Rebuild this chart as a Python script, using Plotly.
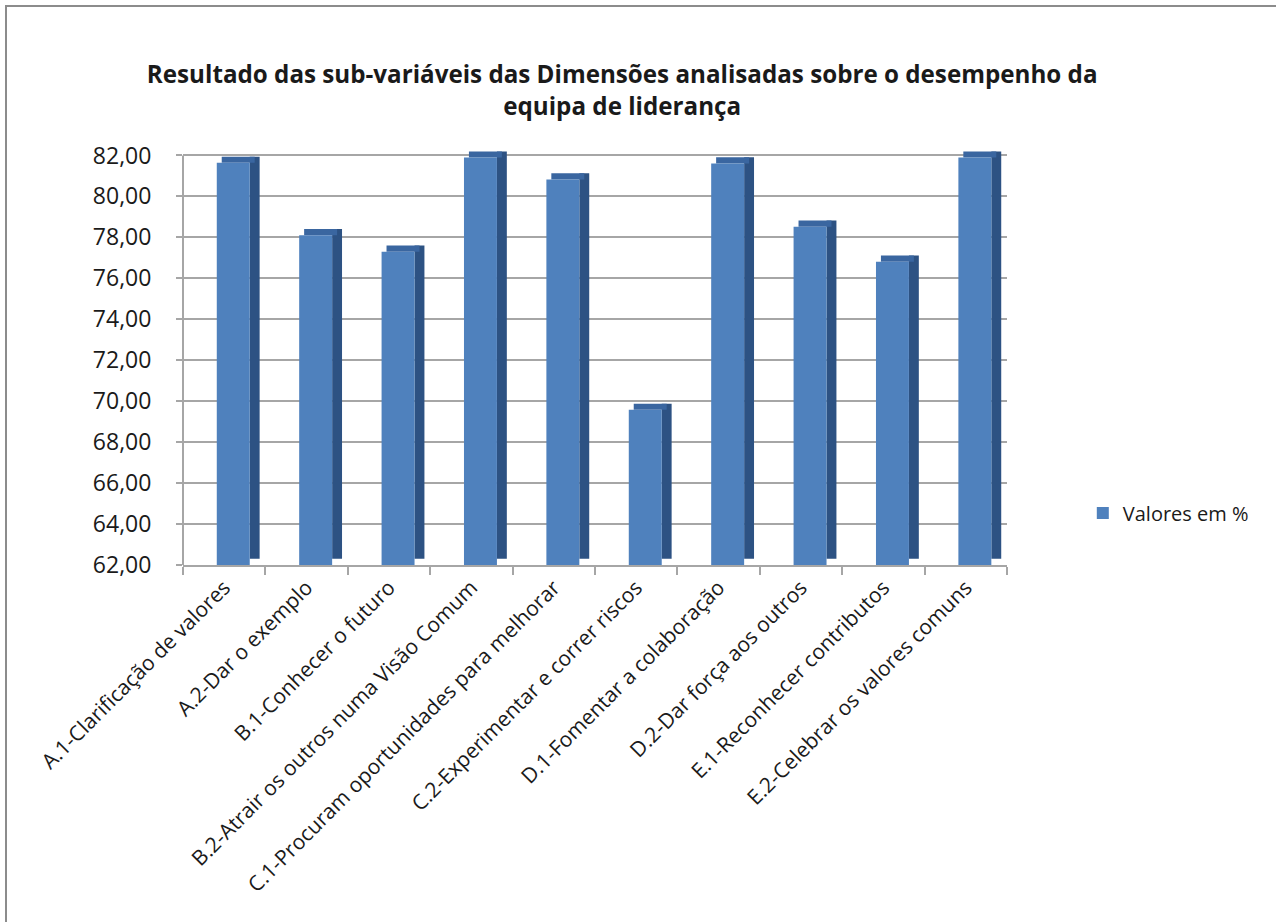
import plotly.graph_objects as go

categories = [
    "A.1-Clarificação de valores",
    "A.2-Dar o exemplo",
    "B.1-Conhecer o futuro",
    "B.2-Atrair os outros numa Visão Comum",
    "C.1-Procuram oportunidades para melhorar",
    "C.2-Experimentar e correr riscos",
    "D.1-Fomentar a colaboração",
    "D.2-Dar força aos outros",
    "E.1-Reconhecer contributos",
    "E.2-Celebrar os valores comuns",
]
valores = [81.64, 78.11, 77.30, 81.90, 80.83, 69.58, 81.61, 78.52, 76.81, 81.90]
series_name = "Valores em %"
title_lines = ["Resultado das sub-variáveis das Dimensões analisadas sobre o desempenho da",
               "equipa de liderança"]

Y_MIN, Y_MAX, Y_TOP = 62, 82, 83
DEPTH_Y = 0.3          # apparent depth of the 3D bars, in value units
FRONT_OFF, FRONT_W = -0.09, 0.40
SIDE_W = 0.12

FONT = "Open Sans"
front_col = "#4F81BD"
top_col = "#3A66A0"
side_col = "#2D5283"

fig = go.Figure()

# side face (extrusion)
fig.add_trace(go.Bar(
    x=categories, y=[v - Y_MIN for v in valores], base=Y_MIN + DEPTH_Y,
    width=SIDE_W, offset=FRONT_OFF + FRONT_W,
    marker=dict(color=side_col, line=dict(width=0)),
    showlegend=False, hoverinfo="skip"))
# top face
fig.add_trace(go.Bar(
    x=categories, y=[DEPTH_Y] * len(valores), base=valores,
    width=FRONT_W, offset=FRONT_OFF + SIDE_W / 2,
    marker=dict(color=top_col, line=dict(width=0)),
    showlegend=False, hoverinfo="skip"))
# front face
fig.add_trace(go.Bar(
    x=categories, y=[v - Y_MIN for v in valores], base=Y_MIN,
    width=FRONT_W, offset=FRONT_OFF,
    marker=dict(color=front_col, line=dict(width=0)),
    name=series_name, showlegend=True))

fig.update_layout(
    width=1276, height=922,
    margin=dict(l=183, r=269, t=134.5, b=357),
    paper_bgcolor="white", plot_bgcolor="white",
    separators=",.",
    barmode="overlay",
    font=dict(family=FONT, color="#1a1a1a"),
    title=dict(text="<b>" + "<br>".join(title_lines) + "</b>",
               x=0.533, xref="paper", xanchor="center",
               y=0.9095, yref="container", yanchor="middle",
               font=dict(family=FONT, size=24.2, color="#1a1a1a")),
    legend=dict(x=1.092, y=0.127 * 410 / 430.5, xref="paper", yref="paper",
                xanchor="left", yanchor="middle",
                font=dict(family=FONT, size=20, color="#1a1a1a"),
                itemsizing="constant", bgcolor="rgba(0,0,0,0)"),
    showlegend=True,
)

fig.update_yaxes(
    range=[Y_MIN, Y_TOP], tick0=Y_MIN, dtick=2, tickformat=".2f",
    showgrid=True, gridcolor="#A6A6A6", gridwidth=2,
    showline=False, zeroline=False,
    ticks="outside", ticklen=6, tickcolor="#A6A6A6", tickwidth=2,
    tickfont=dict(family=FONT, size=23, color="#1a1a1a"),
    ticklabelstandoff=20,
)
fig.update_xaxes(
    type="category", tickangle=-45, tickson="boundaries",
    ticks="outside", ticklen=8, tickcolor="#A6A6A6", tickwidth=2,
    showline=True, linecolor="#A6A6A6", linewidth=2,
    showgrid=False,
    tickfont=dict(family=FONT, size=21, color="#1a1a1a"),
)

# vertical axis line from min to max value
fig.add_shape(type="line", xref="paper", yref="y", x0=0, x1=0, y0=Y_MIN, y1=Y_MAX,
              line=dict(color="#A6A6A6", width=2))
# chart border
fig.add_shape(type="rect", xref="paper", yref="paper",
              x0=-0.2148, x1=1.34, y0=-0.9, y1=1.30,
              line=dict(color="#8C8C8C", width=2), fillcolor="rgba(0,0,0,0)", layer="below")

fig.write_html("out.html")
